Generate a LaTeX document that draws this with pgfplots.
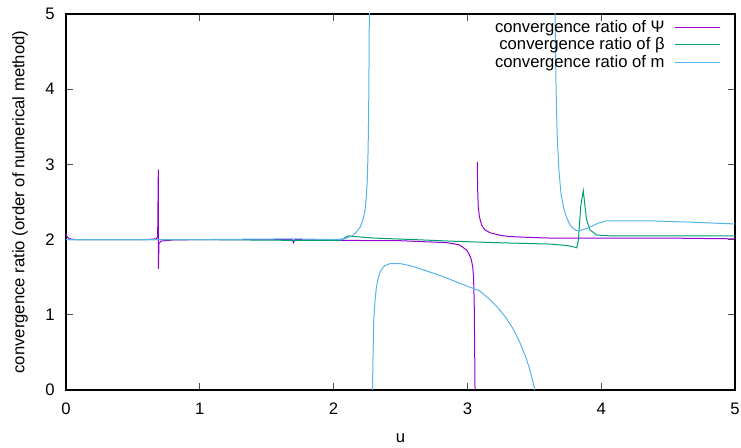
\documentclass[border=0pt]{standalone}
\usepackage{pgfplots}
\pgfplotsset{compat=1.18}
\usepackage{fontspec}
\setmainfont{Liberation Sans}
\definecolor{cpsi}{HTML}{9400D3}
\definecolor{cbeta}{HTML}{009E73}
\definecolor{cmcol}{HTML}{56B4E9}
\newcommand{\lent}[1]{\makebox[133.5pt][r]{#1\hspace{5.5pt}}}
\begin{document}
\begin{tikzpicture}
\begin{axis}[
  at={(0,0)}, anchor=south west,
  scale only axis, width=501.75pt, height=282pt,
  xmin=0, xmax=5, ymin=0, ymax=5,
  xtick={0,1,2,3,4,5}, ytick={0,1,2,3,4,5},
  tick align=inside, major tick length=5pt,
  every tick/.style={black!70, line width=0.6pt},
  axis line style={black, line width=0.9pt},
  /pgf/number format/assume math mode=true,
  ticklabel style={font=\fontsize{12.5}{14}\selectfont, inner sep=0pt},
  xticklabel style={yshift=-9.5pt},
  yticklabel style={xshift=-8.25pt},
  xlabel={u}, ylabel={convergence ratio (order of numerical method)},
  label style={font=\fontsize{12.5}{14}\selectfont},
  xlabel style={at={(axis description cs:0.5,0)}, anchor=center, yshift=-36pt},
  ylabel style={at={(axis description cs:0,0.5)}, anchor=center, yshift=34.5pt},
  unbounded coords=jump,
  legend style={draw=none, fill=none, at={(rel axis cs:0.985,0.998)}, anchor=north east,
    font=\fontsize{12.5}{14}\selectfont, row sep=-1.5pt},
  legend cell align=right,
  legend plot pos=right,
  legend image code/.code={\draw[#1] (0pt,0pt) -- (33.75pt,0pt);},
  every axis plot/.append style={line width=0.75pt},
]
\addlegendimage{draw=cpsi, line width=0.8pt}
\addlegendentry{\lent{convergence ratio of Ψ}}
\addlegendimage{draw=cbeta, line width=0.8pt}
\addlegendentry{\lent{convergence ratio of β}}
\addlegendimage{draw=cmcol, line width=0.8pt}
\addlegendentry{\lent{convergence ratio of m}}
\addplot[cpsi, forget plot] coordinates {
(0,2.08)(0.01,2.03)(0.03,2.01)(0.07,2.0)(0.6,2.0)(0.675,2.01)(0.685,2.04)(0.69,2.93)(0.6905,1.61)(0.695,1.95)(0.71,1.98)(0.8,1.995)(1.0,2.0)(1.69,2.0)(1.70,1.96)(1.71,2.0)(2.0,1.99)(2.5,1.985)(2.70,1.97)(2.845,1.96)(2.94,1.93)(2.995,1.86)(3.015,1.80)(3.03,1.73)(3.04,1.63)(3.046,1.50)(3.051,1.15)(3.054,0.6)(3.057,0.0)(3.058,-0.5)
(3.065,nan)
(3.074,3.03)(3.076,2.7)(3.081,2.44)(3.09,2.3)(3.107,2.19)(3.13,2.13)(3.17,2.09)(3.25,2.055)(3.32,2.04)(3.45,2.03)(3.62,2.02)(4.5,2.02)(5,2.01)
};
\addplot[cbeta, forget plot] coordinates {
(0,2.0)(1.0,2.0)(1.7,1.99)(2.05,1.99)(2.08,2.02)(2.11,2.05)(2.16,2.04)(2.3,2.02)(2.6,2.0)(2.87,1.98)(3.2,1.96)(3.62,1.94)(3.75,1.92)(3.8,1.90)(3.817,1.89)(3.83,2.0)(3.847,2.44)(3.866,2.65)(3.89,2.27)(3.916,2.13)(3.966,2.06)(4.066,2.05)(5,2.05)
};
\addplot[cmcol, forget plot] coordinates {
(0,2.0)(1.0,2.0)(1.7,2.01)(2.0,2.0)(2.08,2.01)(2.14,2.05)(2.17,2.1)(2.2,2.17)(2.22,2.27)(2.235,2.39)(2.245,2.58)(2.252,2.8)(2.258,3.2)(2.262,3.7)(2.265,4.4)(2.267,5.0)(2.268,5.5)
(2.28,nan)
(2.289,-0.5)(2.293,0.3)(2.30,0.93)(2.31,1.2)(2.32,1.37)(2.335,1.5)(2.35,1.58)(2.38,1.65)(2.42,1.68)(2.5,1.68)(2.58,1.65)(2.65,1.61)(2.8,1.52)(2.9,1.45)(3.0,1.38)(3.09,1.32)(3.15,1.23)(3.22,1.11)(3.28,0.98)(3.34,0.82)(3.39,0.64)(3.44,0.42)(3.47,0.25)(3.50,0.03)(3.505,-0.3)
(3.6,nan)
(3.652,5.5)(3.655,5.0)(3.66,4.3)(3.665,3.8)(3.672,3.33)(3.685,2.9)(3.70,2.6)(3.72,2.42)(3.74,2.30)(3.765,2.2)(3.79,2.15)(3.815,2.12)(3.84,2.12)(3.88,2.14)(3.92,2.17)(3.98,2.22)(4.04,2.25)(4.36,2.25)(4.7,2.23)(4.97,2.21)(5,2.21)
};
\end{axis}
\pgfresetboundingbox
\path (-49.5pt,-43.5pt) rectangle (506.25pt,292.5pt);
\end{tikzpicture}
\end{document}
